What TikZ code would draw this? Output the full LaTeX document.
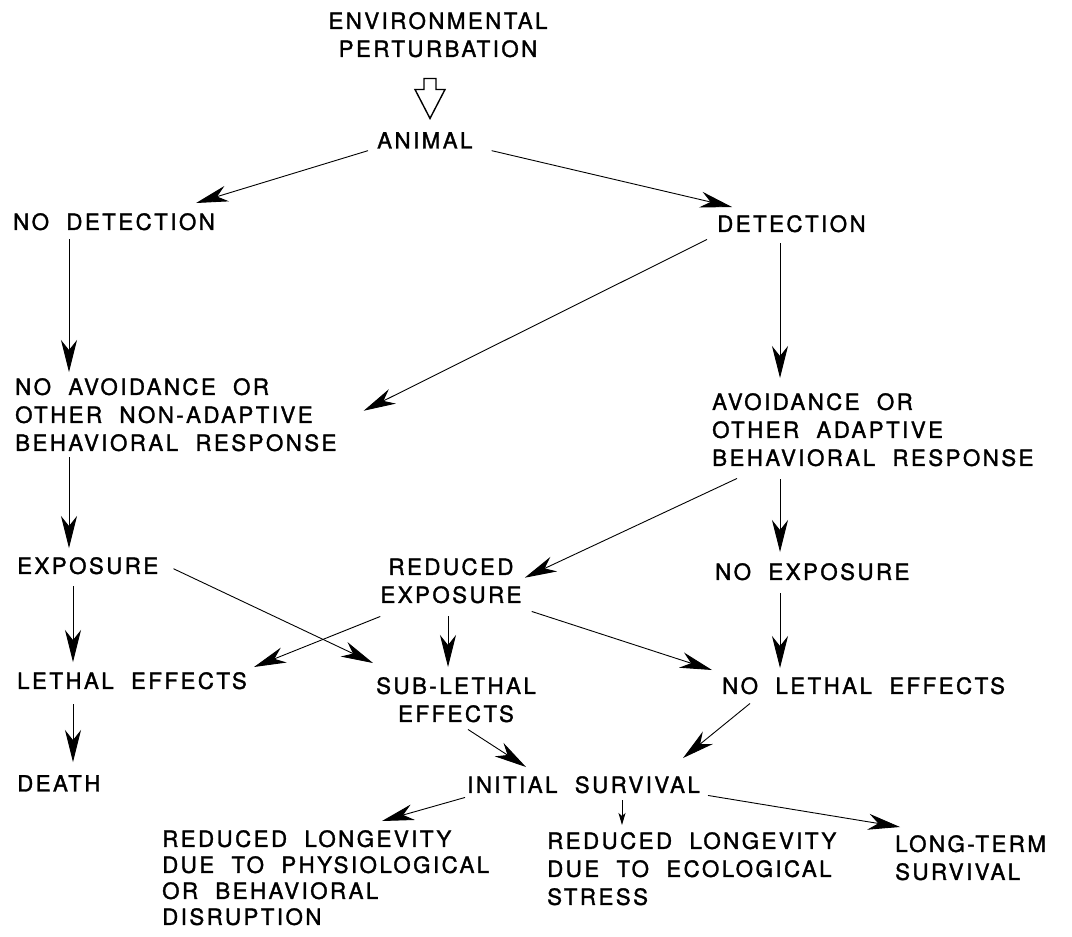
\documentclass[tikz,border=0pt]{standalone}
\usepackage{fontspec}
\setmainfont{TeX Gyre Heros}[LetterSpace=11,WordSpace=2,FakeBold=1.5]
\usetikzlibrary{arrows.meta}

\begin{document}
\begin{tikzpicture}[x=1pt,y=-1pt,
  lbl/.style={inner sep=0pt,anchor=north west,align=left,font=\fontsize{22.3}{28}\selectfont},
  clbl/.style={lbl,anchor=north,align=center},
  arr/.style={line width=0.9pt,-{Stealth[length=32pt,width=16pt,inset=10pt]}},
  smallarr/.style={line width=0.9pt,-{Stealth[length=12pt,width=7pt,inset=3pt]}}]
\useasboundingbox (0,0) rectangle (1072,937);

\node [clbl] (env) at (438,12) {ENVIRONMENTAL\\PERTURBATION};
\node [lbl] (animal) at (377,132) {ANIMAL};
\node [lbl] (nodet) at (13,213) {NO DETECTION};
\node [lbl] (det) at (717,215) {DETECTION};
\node [lbl] (noavoid) at (15,378) {NO AVOIDANCE OR\\OTHER NON-ADAPTIVE\\BEHAVIORAL RESPONSE};
\node [lbl] (avoid) at (712,393) {AVOIDANCE OR\\OTHER ADAPTIVE\\BEHAVIORAL RESPONSE};
\node [lbl] (expo) at (17,557) {EXPOSURE};
\node [clbl] (redexp) at (451,558) {REDUCED\\EXPOSURE};
\node [lbl] (noexp) at (715,563) {NO EXPOSURE};
\node [lbl] (lethal) at (17,672) {LETHAL EFFECTS};
\node [clbl] (sublethal) at (456,677) {SUB-LETHAL\\EFFECTS};
\node [lbl] (nolethal) at (722,677) {NO LETHAL EFFECTS};
\node [lbl] (death) at (17,775) {DEATH};
\node [lbl] (initial) at (467,776) {INITIAL SURVIVAL};
\node [lbl,font=\fontsize{22.3}{26}\selectfont] (redlongphys) at (162,830) {REDUCED LONGEVITY\\DUE TO PHYSIOLOGICAL\\OR BEHAVIORAL\\DISRUPTION};
\node [lbl] (redlongeco) at (547,832) {REDUCED LONGEVITY\\DUE TO ECOLOGICAL\\STRESS};
\node [lbl] (longterm) at (895,835) {LONG-TERM\\SURVIVAL};

\draw [line width=1.4pt,fill=white] ([xshift=-14pt,yshift=-21pt]env.south) -- ++(12,0) -- ++(0,11) -- ++(9,0) -- ++(-15,29) -- ++(-15,-29) -- ++(9,0) -- cycle;

\draw [arr] ([xshift=-9pt,yshift=-2pt]animal.south west) -- ([xshift=-19pt,yshift=10pt]nodet.north east);
\draw [arr] ([xshift=19pt,yshift=-2pt]animal.south east) -- ([xshift=15pt,yshift=8pt]det.north west);
\draw [arr] ([xshift=56pt,yshift=-9pt]nodet.south west) -- ([xshift=54pt,yshift=6pt]noavoid.north west);
\draw [arr] ([xshift=-10pt,yshift=-7pt]det.south west) -- ([xshift=27pt,yshift=4pt]noavoid.east);
\draw [arr] ([xshift=63pt,yshift=-11pt]det.south west) -- ([xshift=68pt,yshift=15pt]avoid.north west);
\draw [arr] ([xshift=54pt,yshift=-6pt]noavoid.south west) -- ([xshift=52pt,yshift=9pt]expo.north west);
\draw [arr] ([xshift=25pt,yshift=-12pt]avoid.south west) -- ([xshift=3pt,yshift=3pt]redexp.east);
\draw [arr] ([xshift=68pt,yshift=-13pt]avoid.south west) -- ([xshift=65pt,yshift=11pt]noexp.north west);
\draw [arr] ([xshift=56pt,yshift=-12pt]expo.south west) -- ([xshift=56pt,yshift=10pt]lethal.north west);
\draw [arr] ([xshift=15pt,yshift=-3pt]expo.east) -- ([xshift=-3pt,yshift=14pt]sublethal.north west);
\draw [arr] ([yshift=-13pt]redexp.south west) -- ([xshift=7pt,yshift=5pt]lethal.north east);
\draw [arr] ([xshift=-3pt,yshift=-13pt]redexp.south) -- ([xshift=-8pt,yshift=10pt]sublethal.north);
\draw [arr] ([xshift=10pt,yshift=-8pt]redexp.south east) -- ([xshift=-10pt,yshift=7pt]nolethal.north west);
\draw [arr] ([xshift=65pt,yshift=-13pt]noexp.south west) -- ([xshift=58pt,yshift=9pt]nolethal.north west);
\draw [arr] ([xshift=56pt,yshift=-15pt]lethal.south west) -- ([xshift=56pt,yshift=13pt]death.north west);
\draw [arr] ([xshift=12pt,yshift=-7pt]sublethal.south) -- ([xshift=59pt,yshift=9pt]initial.north west);
\draw [arr] ([xshift=28pt,yshift=-9pt]nolethal.south west) -- ([xshift=-17pt,yshift=18pt]initial.north east);
\draw [arr] ([xshift=-2pt,yshift=-4pt]initial.south west) -- ([xshift=220pt,yshift=9pt]redlongphys.north west);
\draw [smallarr] ([xshift=155pt,yshift=-7pt]initial.south west) -- ([xshift=75pt,yshift=7pt]redlongeco.north west);
\draw [arr] ([xshift=8pt,yshift=-2pt]initial.south east) -- ([xshift=5pt,yshift=8pt]longterm.north west);
\end{tikzpicture}
\end{document}
